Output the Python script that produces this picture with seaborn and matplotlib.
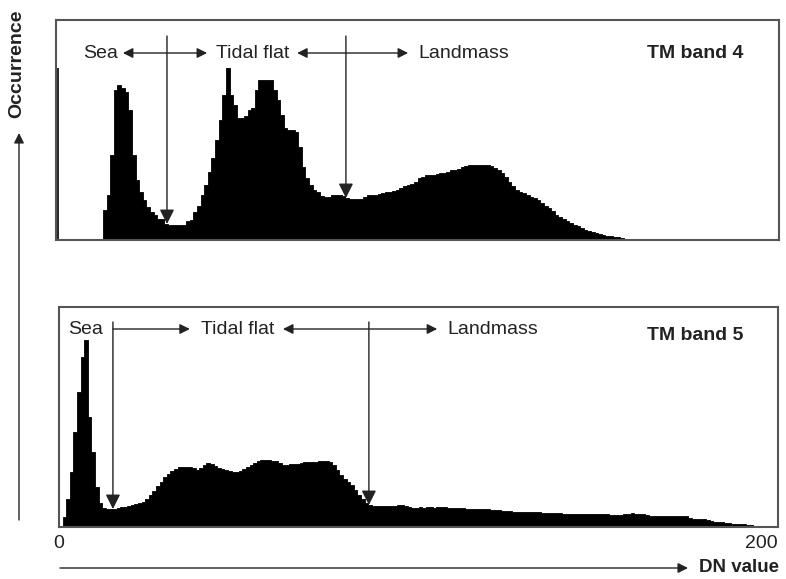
import numpy as np
import pandas as pd
import matplotlib.pyplot as plt
import seaborn as sns

sns.set_style("white")
plt.rcParams['font.family'] = ['Liberation Sans', 'DejaVu Sans']

# ---------------- data (DN 0..200) ----------------
dn = np.arange(0, 201)

band4_counts = [0] * 13 + [
    30, 45, 85, 150, 155, 152, 148, 130, 85, 60,      # 13-22
    48, 40, 33, 28, 25, 21, 21, 16, 15, 15,           # 23-32
    15, 15, 15, 19, 20, 28, 34, 45, 55, 68,           # 33-42
    82, 100, 120, 145, 172, 145, 135, 122, 122, 124,  # 43-52
    130, 132, 150, 160, 160, 160, 160, 150, 140, 125, # 53-62
    112, 110, 110, 108, 93, 73, 62, 55, 50, 48,       # 63-72
    44, 43, 43, 45, 45, 45, 44, 42, 41, 41,           # 73-82
    41, 41, 43, 45, 45, 45, 46, 47, 48, 48,           # 83-92
    49, 50, 52, 54, 55, 56, 58, 62, 63, 65,           # 93-102
    65, 65, 66, 67, 67, 68, 70, 70, 71, 73,           # 103-112
    74, 75, 75, 75, 75, 75, 75, 74, 72, 70,           # 113-122
    67, 63, 58, 54, 50, 48, 47, 45, 43, 42,           # 123-132
    40, 37, 34, 32, 29, 25, 23, 21, 19, 17,           # 133-142
    15, 14, 12, 10, 9, 8, 7, 6, 5, 4,                 # 143-152
    4, 3, 3, 2, 1, 1] + [0] * 42                      # 153-200

band5_counts = [
    1, 10, 28, 55, 95, 135, 170, 187, 110, 75,        # 0-9
    40, 24, 19, 18, 18, 18, 19, 20, 20, 21,           # 10-19
    22, 23, 24, 25, 28, 32, 36, 41, 45, 50,           # 20-29
    53, 56, 58, 60, 60, 60, 60, 59, 57, 59,           # 30-39
    62, 64, 63, 61, 59, 58, 57, 56, 55, 55,           # 40-49
    56, 58, 60, 62, 64, 66, 67, 67, 67, 66,           # 50-59
    66, 64, 62, 62, 63, 63, 63, 64, 65, 65,           # 60-69
    65, 65, 66, 66, 66, 65, 62, 57, 52, 48,           # 70-79
    45, 42, 37, 32, 28, 24, 22, 21, 21, 21,           # 80-89
    21, 21, 21, 21, 22, 22, 21, 20, 19, 19,           # 90-99
    20, 19, 20, 20, 19, 20, 20, 20, 19, 19,           # 100-109
    19, 19, 19, 18, 18, 18, 18, 18, 18, 18,           # 110-119
    17, 17, 17, 16, 16, 16, 15, 15, 15, 15,           # 120-129
    15, 15, 15, 15, 14, 14, 14, 14, 14, 14,           # 130-139
    13, 13, 13, 13, 13, 13, 13, 13, 13, 13,           # 140-149
    13, 13, 13, 12, 12, 12, 12, 13, 13, 14,           # 150-159
    13, 13, 13, 12, 11, 11, 11, 11, 11, 11,           # 160-169
    11, 11, 11, 11, 11, 9, 8, 8, 8, 8,                # 170-179
    7, 6, 5, 5, 5, 4, 4, 3, 3, 3,                     # 180-189
    3, 2, 2, 1, 1, 1, 1, 1, 1, 0,                     # 190-199
    0]                                                # 200

band4_zero_spike = 172
band4_bounds = [30.7, 80.2]     # Sea / Tidal flat, Tidal flat / Landmass
band5_bounds = [15.0, 86.2]
x_ticks = [0, 200]
x_tick_labels = ['0', '200']

# bin centres, so no value sits on a bin edge
df4 = pd.DataFrame({'DN': dn + 0.5, 'count': band4_counts})
df5 = pd.DataFrame({'DN': dn + 0.5, 'count': band5_counts})

W, H = 786, 579
fig = plt.figure(figsize=(W / 100, H / 100), dpi=100)
ax4 = fig.add_axes([56 / W, 339 / H, 723 / W, 220 / H])
ax5 = fig.add_axes([59 / W, 52 / H, 719 / W, 220 / H])

for ax, df in [(ax4, df4), (ax5, df5)]:
    sns.histplot(data=df, x='DN', weights='count', binwidth=1, binrange=(0, 201),
                 element='step', fill=True, color='black', alpha=1,
                 linewidth=0.6, edgecolor='black', ax=ax)
    ax.set_xlim(0, 200)
    ax.set_ylim(0, 220)
    ax.set_xlabel('')
    ax.set_ylabel('')
    ax.set_yticks([])
    for s in ax.spines.values():
        s.set_color('#555555')
        s.set_linewidth(1.5)
        s.set_zorder(5)

ax4.vlines(0.6, 0, band4_zero_spike, color='black', lw=1.2)
ax4.set_xticks([])

txt = dict(fontsize=14, color='#222222', va='center')
both = dict(arrowstyle='<|-|>', color='#222222', lw=1, mutation_scale=15,
            shrinkA=0, shrinkB=0)
one = dict(arrowstyle='-|>', color='#222222', lw=1, mutation_scale=15,
           shrinkA=0, shrinkB=0)
down = dict(arrowstyle='-|>', color='#222222', lw=1, mutation_scale=22,
            shrinkA=0, shrinkB=0)

# ---- TM band 4 annotations
ax4.text(12.3, 187, 'Sea', ha='center', **txt)
ax4.annotate('', xy=(18.5, 187), xytext=(41.8, 187), arrowprops=both)
ax4.text(54.4, 187, 'Tidal flat', ha='center', **txt)
ax4.annotate('', xy=(66.7, 187), xytext=(97.4, 187), arrowprops=both)
ax4.text(100.3, 187, 'Landmass', ha='left', **txt)
ax4.text(176.7, 187, 'TM band 4', ha='center', weight='bold', **txt)
for b in band4_bounds:
    ax4.annotate('', xy=(b, band4_counts[int(b)]), xytext=(b, 204), arrowprops=down)

# ---- TM band 5 annotations
ax5.text(7.4, 197, 'Sea', ha='center', **txt)
ax5.annotate('', xy=(36.4, 198), xytext=(band5_bounds[0], 198), arrowprops=one)
ax5.text(49.7, 198, 'Tidal flat', ha='center', **txt)
ax5.annotate('', xy=(62.3, 198), xytext=(105.2, 198), arrowprops=both)
ax5.text(107.9, 198, 'Landmass', ha='left', **txt)
ax5.text(176.9, 191, 'TM band 5', ha='center', weight='bold', **txt)
for b in band5_bounds:
    ax5.annotate('', xy=(b, band5_counts[int(b)]), xytext=(b, 205), arrowprops=down)

ax5.set_xticks(x_ticks)
ax5.set_xticklabels(x_tick_labels)
ax5.tick_params(axis='x', length=0, labelsize=14, pad=6, labelcolor='#222222')
ax5.get_xticklabels()[1].set_ha('right')

# ---- outer axis arrows
fig.text(17 / W, 515 / H, 'Occurrence', rotation=90, ha='center', va='center',
         fontsize=14, weight='bold', color='#222222')
ax5.annotate('', xy=(19, H - 133), xytext=(19, H - 520), xycoords='figure pixels',
             textcoords='figure pixels', arrowprops=one)
ax5.annotate('', xy=(688, 11), xytext=(60, 11), xycoords='figure pixels',
             textcoords='figure pixels', arrowprops=one)
fig.text(699 / W, 11 / H, 'DN value', ha='left', va='center', fontsize=13.5,
         weight='bold', color='#222222')

fig.savefig('out.png', dpi=100)
